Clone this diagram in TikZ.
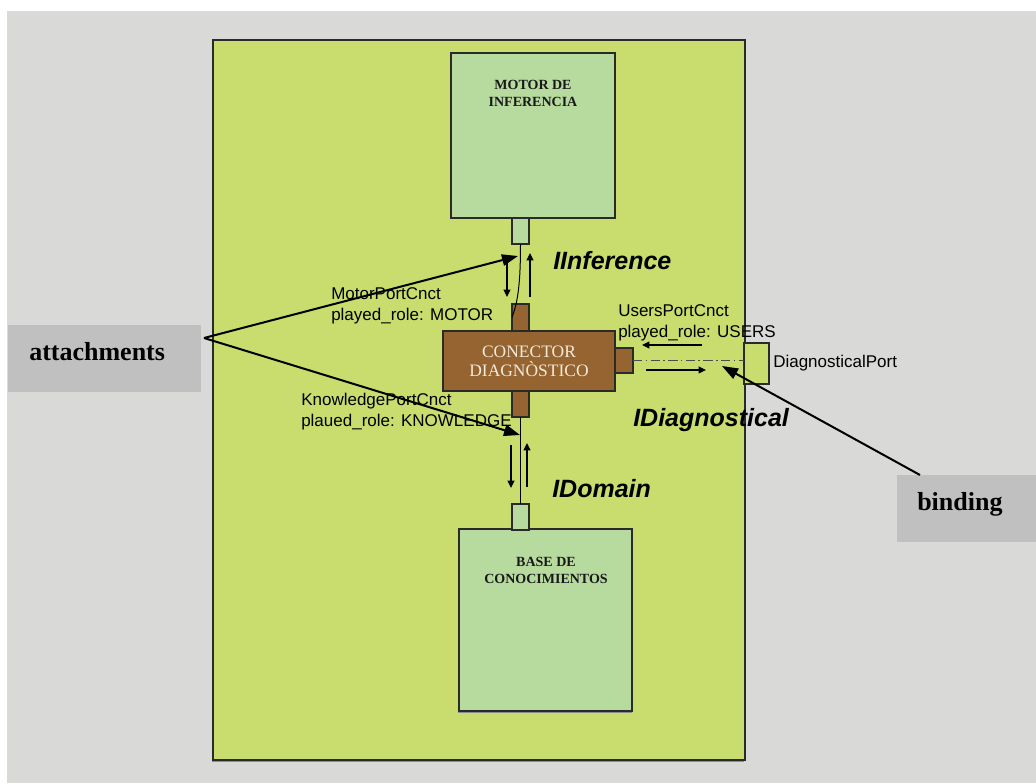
\documentclass[tikz,border=0pt]{standalone}
\usepackage{fontspec}
\setmainfont{Liberation Serif}
\newfontfamily\arialfont{Liberation Sans}
\usetikzlibrary{arrows.meta,fit}

\definecolor{panelgrey}{HTML}{D9D9D7}
\definecolor{leaf}{HTML}{C9DC6E}
\definecolor{mint}{HTML}{B7DB9F}
\definecolor{bark}{HTML}{956430}
\definecolor{tagbox}{HTML}{C0C0C0}
\definecolor{cream}{HTML}{F3EADB}
\definecolor{edge}{HTML}{2A2A2A}

\tikzset{
  area/.style={draw=edge, line width=0.9pt, inner sep=0pt, outer sep=0pt},
  greenbox/.style={area, fill=mint},
  brownbox/.style={area, fill=bark},
  tag/.style={fill=tagbox, inner sep=0pt, outer sep=0pt},
  tagtext/.style={anchor=base west, inner sep=0pt, font=\fontsize{19.5pt}{23pt}\selectfont\bfseries},
  boxtitle/.style={align=center, inner sep=0pt, text=black!90,
    font=\fontsize{10.5pt}{12.8pt}\selectfont\bfseries},
  rolelabel/.style={anchor=base west, align=left, inner sep=0pt,
    font=\arialfont\fontsize{12.75pt}{15.4pt}\selectfont},
  iface/.style={anchor=base west, inner sep=0pt,
    font=\arialfont\fontsize{18.75pt}{22pt}\selectfont\bfseries\itshape},
  pointer/.style={line width=1.5pt, -{Triangle[length=12pt,width=8.5pt]}},
  flow/.style={line width=1.1pt, -{Triangle[length=5.5pt,width=5pt]}},
}

\begin{document}
\begin{tikzpicture}[x=0.75pt,y=-0.75pt]
\useasboundingbox (0,0) rectangle (1036,783);

% background panel
\fill[panelgrey] (7,11) rectangle (1036,783);

% system boundary with its thin shadow
\fill[black!45] (212,42) rectangle (744,762);
\node[area, fill=leaf, fit={(213,40) (745,760)}] (sys) {};

% components
\node[greenbox, fit={(451,53) (615,218)}] (motor) {};
\node[boxtitle] (motortxt) at (533,93) {MOTOR DE\\INFERENCIA};
\node[greenbox, fit={(512,218) (529,244)}] (mp) {};

\fill[black!45] (458,531) rectangle (632,713);
\node[greenbox, fit={(459,529) (632,711)}] (base) {};
\node[boxtitle] (basetxt) at (546,570) {BASE DE\\CONOCIMIENTOS};
\node[greenbox, fit={(512,504) (529,530)}] (bp) {};

% connector with its three ports
\node[brownbox, fit={(512,304) (529,331)}] (ctp) {};
\node[brownbox, fit={(512,391) (529,417)}] (cbp) {};
\node[brownbox, fit={(615,348) (633,373)}] (crp) {};
\node[brownbox, fit={(443,331) (615,391)}] (conn) {};
\node[align=center, inner sep=0pt, text=cream,
      font=\fontsize{13.1pt}{14.3pt}\selectfont] (conntxt) at (conn.center)
      {CONECTOR\\DIAGNÒSTICO};

% external port of the system
\node[area, fill=leaf, fit={(744,343) (769,384)}] (dp) {};
\node[anchor=west, inner sep=0pt, font=\arialfont\fontsize{12.75pt}{15pt}\selectfont]
  (dptxt) at (773,363) {DiagnosticalPort};

% attachments between ports
\draw[line width=0.75pt] (mp.south) .. controls +(0,45) and +(5,-14) .. (ctp.west);
\draw[line width=0.75pt] (cbp.south) -- (bp.north);

% binding to the external port
\draw[line width=0.8pt, draw=black!70, dash pattern=on 7pt off 2.5pt on 1.2pt off 2.5pt]
  (crp.east) -- (crp.east -| dp.west);

% interface flows
\coordinate (m1a) at (507,262); \coordinate (m1b) at (507,297);
\coordinate (m2a) at (530,297); \coordinate (m2b) at (530,253);
\draw[flow] (m1a) -- (m1b);
\draw[flow] (m2a) -- (m2b);
\coordinate (k1a) at (511,445); \coordinate (k1b) at (511,488);
\coordinate (k2a) at (527,487); \coordinate (k2b) at (527,443);
\draw[flow] (k1a) -- (k1b);
\draw[flow] (k2a) -- (k2b);
\coordinate (u1a) at (702,345); \coordinate (u1b) at (642,345);
\coordinate (u2a) at (646,370); \coordinate (u2b) at (706,370);
\draw[flow] (u1a) -- (u1b);
\draw[flow] (u2a) -- (u2b);

% role labels (anchored on the baseline of their last line)
\node[rolelabel] (motorrole) at (331,320) {MotorPortCnct\\played\_role: MOTOR};
\node[rolelabel] (usersrole) at (618,337) {UsersPortCnct\\played\_role: USERS};
\node[rolelabel] (knowrole) at (301,426) {KnowledgePortCnct\\plaued\_role: KNOWLEDGE};

% interface names
\node[iface] (iinf) at (553,269) {IInference};
\node[iface] (idiag) at (633,426) {IDiagnostical};
\node[iface] (idom) at (552,497) {IDomain};

% callout boxes
\node[tag, fit={(8,325) (201,392)}] (att) {};
\node[tagtext] (atttxt) at (29,360) {attachments};
\node[tag, fit={(897,475) (1036,542)}] (bind) {};
\node[tagtext] (bindtxt) at (917,510) {binding};

% callout pointers
\coordinate (attv) at (204,338);
\coordinate (motortip) at (518,256);
\coordinate (knowtip) at (520,435);
\coordinate (bindfoot) at (920,475);
\coordinate (bindtip) at (722,366);
\draw[pointer] (attv) -- (motortip);
\draw[pointer] (attv) -- (knowtip);
\draw[pointer] (bindfoot) -- (bindtip);
\end{tikzpicture}
\end{document}
